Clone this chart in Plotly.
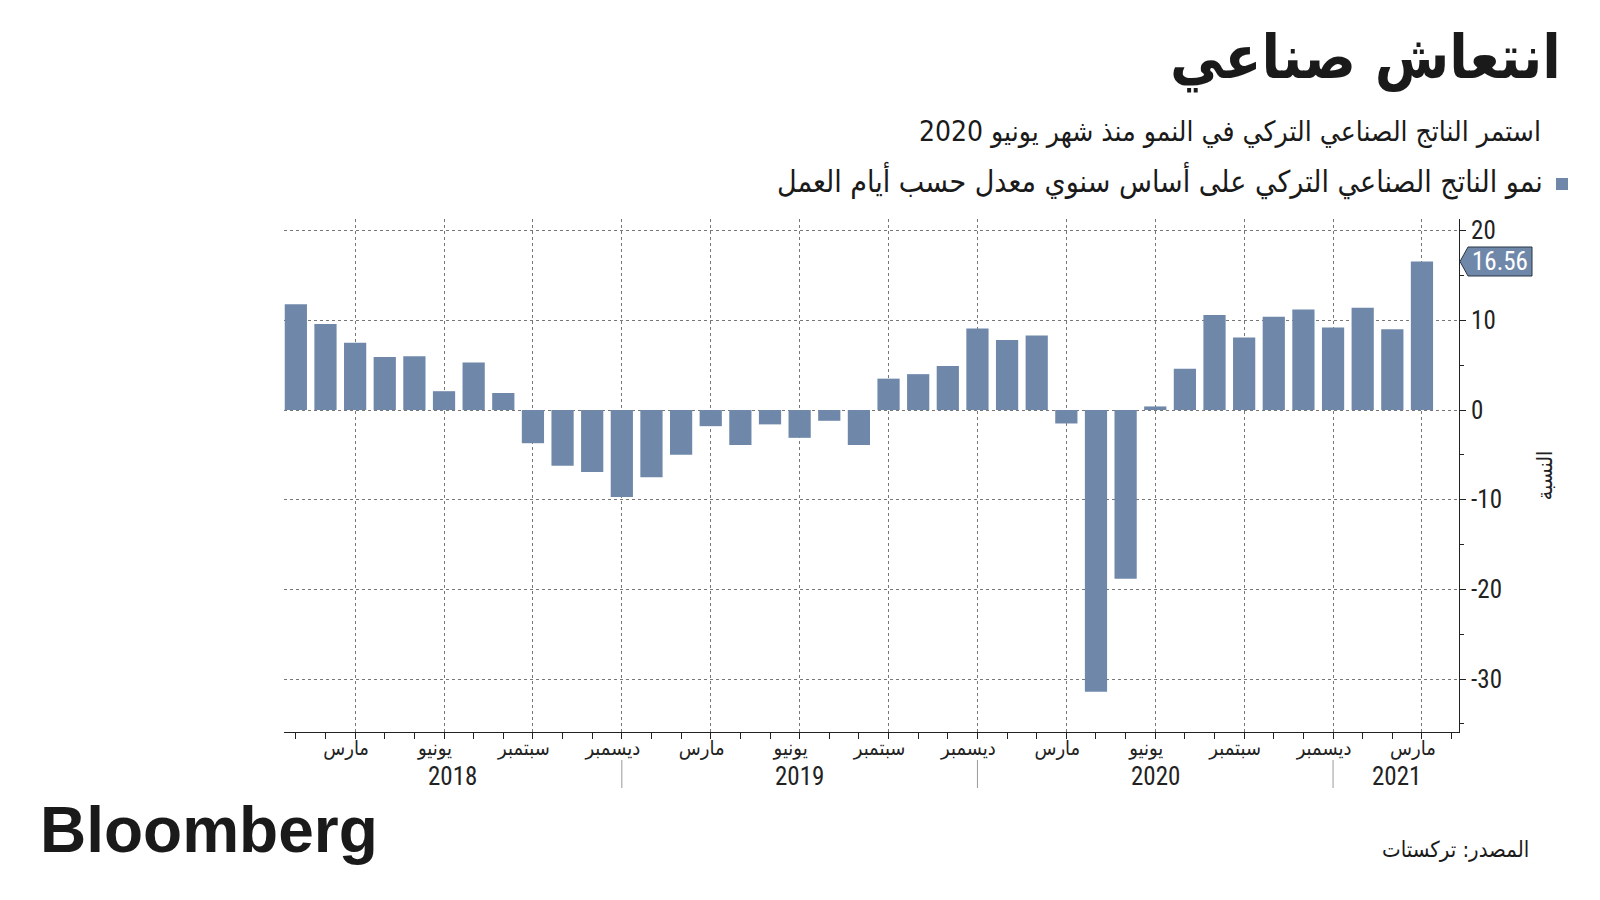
import pandas as pd
import plotly.graph_objects as go

# Turkish industrial output, YoY, working-day adjusted (%)
months = [d.strftime("%Y-%m") for d in pd.date_range("2018-01-01", "2021-03-01", freq="MS")]
values = [11.8, 9.6, 7.5, 5.9, 6.0, 2.1, 5.3, 1.9, -3.7, -6.2, -6.9, -9.7,
          -7.5, -5.0, -1.8, -3.9, -1.6, -3.1, -1.2, -3.9, 3.5, 4.0, 4.9, 9.1,
          7.8, 8.3, -1.5, -31.4, -18.8, 0.4, 4.6, 10.6, 8.1, 10.4, 11.2, 9.2,
          11.4, 9.0, 16.56]
month_names = {3: "مارس", 6: "يونيو", 9: "سبتمبر", 12: "ديسمبر"}
y_ticks = [20, 10, 0, -10, -20, -30]

title = "انتعاش صناعي"
subtitle = "استمر الناتج الصناعي التركي في النمو منذ شهر يونيو 2020"
series_name = "نمو الناتج الصناعي التركي على أساس سنوي معدل حسب أيام العمل"
y_title = "النسبة"
source = "المصدر: تركستات"

BAR = "#6f88aa"
AR_FONT = "DejaVu Sans Condensed, DejaVu Sans, sans-serif"
NUM_FONT = "Liberation Sans Narrow, Roboto Condensed, Liberation Sans, sans-serif"

# page has an 8px body margin, so the figure is 16px smaller and shifted
OFF = 8
W, H = 1600 - 2 * OFF, 900 - 2 * OFF
# plot area in page pixels
L, R, T, B = 284, 1459, 219, 732
X_RANGE = [-0.4, 39.25]
Y_RANGE = [-35.9, 21.3]


def px_x(p):
    return (p - L) / (R - L)


def px_y(p):
    return (B - p) / (B - T)


def val_y(v):
    return (v - Y_RANGE[0]) / (Y_RANGE[1] - Y_RANGE[0])


x = list(range(len(months)))
tick_idx = [i for i, m in enumerate(months) if int(m[5:]) in month_names]
tick_txt = [month_names[int(months[i][5:])] for i in tick_idx]

fig = go.Figure()
fig.add_trace(go.Bar(x=x, y=values, marker=dict(color=BAR, line=dict(width=0)),
                     width=0.75, hoverinfo="x+y", showlegend=False))

fig.update_layout(
    width=W, height=H,
    margin=dict(l=L - OFF, r=W - (R - OFF), t=T - OFF, b=H - (B - OFF), autoexpand=False),
    plot_bgcolor="white", paper_bgcolor="white",
    font=dict(family=NUM_FONT, color="#222"),
)

fig.update_xaxes(
    range=X_RANGE, tickvals=tick_idx, ticktext=tick_txt,
    tickfont=dict(family=AR_FONT, size=20, color="#222"),
    ticklabelshift=-9, ticklabelstandoff=-8,
    showgrid=True, gridcolor="#777", griddash="dot", gridwidth=1,
    ticks="outside", ticklen=6, tickcolor="#222",
    minor=dict(dtick=1, tick0=0, ticks="outside", ticklen=6, tickcolor="#222", showgrid=False),
    showline=True, linecolor="#222", linewidth=1.2, zeroline=False, automargin=False,
)

fig.update_yaxes(
    range=Y_RANGE, side="right",
    tickvals=y_ticks, ticktext=[str(v) for v in y_ticks],
    tickfont=dict(family=NUM_FONT, size=25, color="#222"),
    showgrid=True, gridcolor="#777", griddash="dot", gridwidth=1,
    ticks="outside", ticklen=6, tickcolor="#222",
    minor=dict(dtick=5, ticks="outside", ticklen=4, tickcolor="#222", showgrid=False),
    showline=True, linecolor="#222", linewidth=1.2, zeroline=False, automargin=False,
    title=dict(text=y_title, font=dict(family=AR_FONT, size=21, color="#222"), standoff=36),
)

# year labels and separators
years = sorted(set(m[:4] for m in months))
dec_idx = [i for i, m in enumerate(months) if m.endswith("-12")]
bounds = [X_RANGE[0]] + dec_idx + [X_RANGE[1]]
for k, yr in enumerate(years):
    fig.add_annotation(x=(bounds[k] + bounds[k + 1]) / 2, xref="x", y=px_y(776), yref="paper",
                       xanchor="center", yanchor="middle",
                       text=yr, showarrow=False, font=dict(family=NUM_FONT, size=25, color="#222"))
for i in dec_idx:
    fig.add_shape(type="line", x0=i, x1=i, xref="x", y0=px_y(760), y1=px_y(788), yref="paper",
                  line=dict(color="#999", width=1))

# last value callout
last = values[-1]
hh = 14.5 / (B - T)
tip, base, right = px_x(1460), px_x(1468), px_x(1532)
yc = val_y(last)
fig.add_shape(type="path", xref="paper", yref="paper",
              path=f"M {tip},{yc} L {base},{yc + hh} L {right},{yc + hh} "
                   f"L {right},{yc - hh} L {base},{yc - hh} Z",
              fillcolor=BAR, line=dict(color="#2b3441", width=1))
fig.add_annotation(x=px_x(1500), xref="paper", y=yc, yref="paper", text=f"{last:.2f}",
                   xanchor="center", yanchor="middle",
                   showarrow=False, font=dict(family=NUM_FONT, size=25, color="white"))

# titles
fig.add_annotation(x=px_x(1563), y=px_y(58), xref="paper", yref="paper",
                   xanchor="right", yanchor="middle",
                   text=f"<b>{title}</b>", showarrow=False,
                   font=dict(family=AR_FONT, size=60, color="#1a1a1a"))
fig.add_annotation(x=px_x(1543), y=px_y(131), xref="paper", yref="paper",
                   xanchor="right", yanchor="middle",
                   text=subtitle, showarrow=False,
                   font=dict(family=AR_FONT, size=28, color="#1a1a1a"))
fig.add_annotation(x=px_x(1545), y=px_y(181), xref="paper", yref="paper",
                   xanchor="right", yanchor="middle",
                   text=series_name, showarrow=False,
                   font=dict(family=AR_FONT, size=30, color="#1a1a1a"))
fig.add_shape(type="rect", xref="paper", yref="paper",
              x0=px_x(1556), x1=px_x(1568), y0=px_y(190), y1=px_y(178),
              fillcolor=BAR, line=dict(width=0))

# footer
fig.add_annotation(x=px_x(38), y=px_y(830), xref="paper", yref="paper",
                   xanchor="left", yanchor="middle",
                   text="<b>Bloomberg</b>", showarrow=False,
                   font=dict(family="Liberation Sans, Arial, sans-serif", size=64, color="#1a1a1a"))
fig.add_annotation(x=px_x(1531), y=px_y(850), xref="paper", yref="paper",
                   xanchor="right", yanchor="middle",
                   text=source, showarrow=False,
                   font=dict(family=AR_FONT, size=22, color="#1a1a1a"))

fig.write_html("out.html")
